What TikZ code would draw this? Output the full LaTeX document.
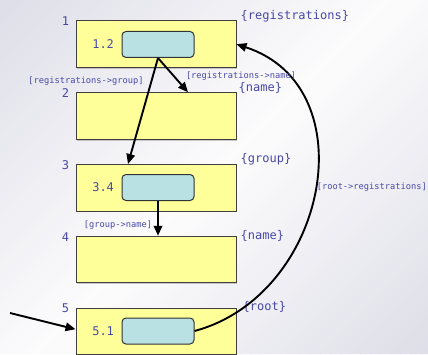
\documentclass[tikz,border=0pt]{standalone}
\usepackage{fontspec}
\newfontfamily\codefont{DejaVu Sans Mono}
\usetikzlibrary{positioning,arrows.meta,shadows}
\definecolor{cellyellow}{HTML}{FFFF99}
\definecolor{slotblue}{HTML}{B9E1E3}
\definecolor{labelblue}{HTML}{4848A8}
\definecolor{bgdark}{HTML}{DEDEE8}
\definecolor{bglight}{HTML}{FCFCFD}

\begin{document}
\begin{tikzpicture}[
        x=1pt, y=1pt,
        rowbox/.style={draw=black!75, line width=1pt, fill=cellyellow,
            minimum width=160pt, minimum height=46.5pt, inner sep=0pt,
            drop shadow={shadow xshift=1.3pt, shadow yshift=-1.3pt, opacity=0.4}},
        slotbox/.style={draw=black!80, line width=1pt, fill=slotblue,
            rounded corners=4pt, minimum width=72pt, minimum height=26pt, inner sep=0pt},
        numlabel/.style={text=labelblue, font=\codefont\fontsize{12}{14}\selectfont},
        edgelabel/.style={text=labelblue, font=\codefont\fontsize{8.7}{10}\selectfont, inner sep=1pt},
        pointer/.style={line width=1.9pt, -{Triangle[length=10pt,width=8.5pt]}}
    ]
    \useasboundingbox (0,0) rectangle (428,354);
    % Hintergrund
    \begin{scope}
        \clip (0,0) rectangle (428,354);
        \foreach \c in {-370,-360,...,430} {
            \pgfmathsetmacro{\mix}{min(100,abs(\c+5-37)/3.9)}
            \fill[bgdark!\mix!bglight] (\c,0) -- (\c+11,0) -- (\c+365,354) -- (\c+354,354) -- cycle;
        }
    \end{scope}

    % Zeilen
    \node[rowbox] (row1) at (156,309.75) {};
    \node[rowbox] (row2) at (156,238) {};
    \node[rowbox] (row3) at (156,166.25) {};
    \node[rowbox] (row4) at (156,94.5) {};
    \node[rowbox] (row5) at (156,22.75) {};

    \node[numlabel] (idx1) at ([xshift=-10pt,yshift=-1pt]row1.north west) {1};
    \node[numlabel] (idx2) at ([xshift=-10pt,yshift=-1pt]row2.north west) {2};
    \node[numlabel] (idx3) at ([xshift=-10pt,yshift=-1pt]row3.north west) {3};
    \node[numlabel] (idx4) at ([xshift=-10pt,yshift=-1pt]row4.north west) {4};
    \node[numlabel] (idx5) at ([xshift=-10pt,yshift=-1pt]row5.north west) {5};

    \node[numlabel, anchor=west, inner xsep=0pt] (var1) at ([xshift=4pt,yshift=4pt]row1.north east) {\{registrations\}};
    \node[numlabel, anchor=west, inner xsep=0pt] (var2) at ([xshift=2pt,yshift=4pt]row2.north east) {\{name\}};
    \node[numlabel, anchor=west, inner xsep=0pt] (var3) at ([xshift=4pt,yshift=4.5pt]row3.north east) {\{group\}};
    \node[numlabel, anchor=west, inner xsep=0pt] (var4) at ([xshift=4pt,yshift=0pt]row4.north east) {\{name\}};
    \node[numlabel, anchor=west, inner xsep=0pt] (var5) at ([xshift=6pt,yshift=1pt]row5.north east) {\{root\}};

    % Felder
    \node[slotbox] (cell12) at (158,309.5) {};
    \node[slotbox] (cell34) at (158,166.5) {};
    \node[slotbox] (cell51) at (158,23) {};
    \node[numlabel, left=4pt of cell12] (addr12) {1.2};
    \node[numlabel, left=4pt of cell34] (addr34) {3.4};
    \node[numlabel, left=4pt of cell51] (addr51) {5.1};

    % Zeiger
    \coordinate (hit3) at ([xshift=-28pt]row3.north);
    \coordinate (hit2) at ([xshift=32pt]row2.north);
    \coordinate (entry) at (10,41);
    \draw[pointer] (cell12.south) -- (hit3);
    \draw[pointer] (cell12.south) -- (hit2);
    \draw[pointer] (cell34.south) -- (cell34.south |- row4.north);
    \draw[pointer] (cell51.east) to[out=15, in=-18, looseness=1.22] (row1.east);
    \draw[pointer] (entry) -- ([yshift=2pt]row5.west);

    \node[edgelabel] (lab1) at (86,273) {[registrations->group]};
    \node[edgelabel] (lab2) at (241,278) {[registrations->name]};
    \node[edgelabel] (lab3) at (118,129) {[group->name]};
    \node[edgelabel, anchor=east] (lab4) at (428,167) {[root->registrations]};
\end{tikzpicture}
\end{document}
